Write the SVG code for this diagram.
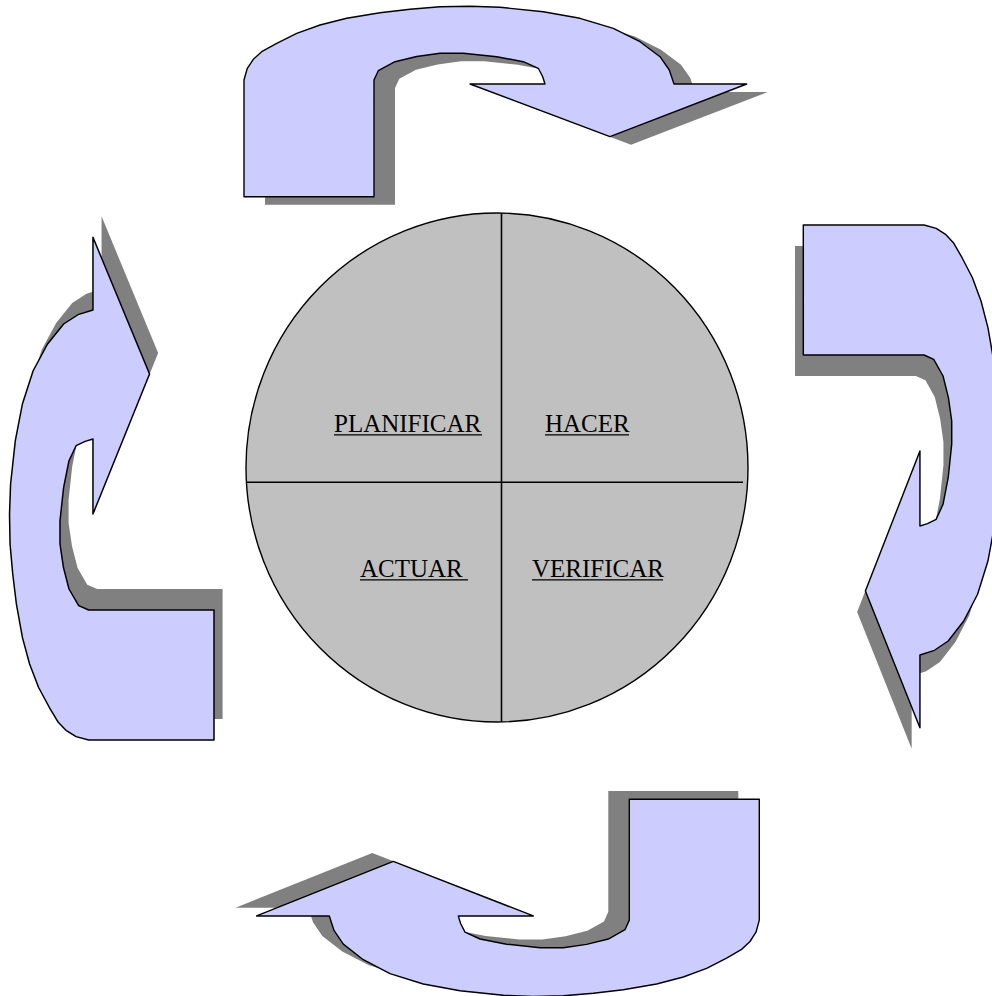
<svg xmlns="http://www.w3.org/2000/svg" xmlns:xlink="http://www.w3.org/1999/xlink" width="992" height="996" viewBox="0 0 992 996">
<style>
.shadow{fill:#808080;stroke:none}
.arrow{fill:#ccccff;stroke:#000;stroke-width:1.4;stroke-linejoin:round}
.disc{fill:#c0c0c0;stroke:#000;stroke-width:1.4}
.div{stroke:#000;stroke-width:1.6;fill:none}
.lbl{font-family:"Liberation Serif","Times New Roman",serif;font-size:25px;fill:#000}
.ul{stroke:#000;stroke-width:1.2}
</style>
<defs>
<path id="bent" d="M244,196.7 L244,80 L247.3,68.3 L253.3,59.3 L261.7,51.7 L276.7,43.3 L296.7,33.3 L320,25 L346.7,18.3 L380,12.7 L410,9.3 L440,6.8 L470,6.3 L500,7.3 L543.3,11.7 L580,18.3 L613.3,28.3 L640,41.7 L660,56.7 L669.3,70 L674,84 L746.7,84 L610,136.7 L470,84 L545,84 L542.7,76.7 L538.3,68.3 L523.3,61.7 L496.7,56.7 L463.3,53.3 L440,53.3 L416.7,56.5 L395,61.7 L378.3,70.7 L374,80 L374,196.7 Z"/>
</defs>
<g id="arrow-top">
<use xlink:href="#bent" href="#bent" class="shadow" transform="translate(21,8)"/>
<use xlink:href="#bent" href="#bent" class="arrow"/>
</g>
<g id="arrow-right" transform="translate(803.3,225) rotate(90) scale(1,1.035) translate(-244,-196.7)">
<use xlink:href="#bent" href="#bent" class="shadow" transform="translate(21,8)"/>
<use xlink:href="#bent" href="#bent" class="arrow"/>
</g>
<g id="arrow-bottom" transform="translate(759.3,799.3) rotate(180) scale(1,1.035) translate(-244,-196.7)">
<use xlink:href="#bent" href="#bent" class="shadow" transform="translate(21,8)"/>
<use xlink:href="#bent" href="#bent" class="arrow"/>
</g>
<g id="arrow-left" transform="translate(214,740) rotate(-90) scale(1,1.074) translate(-244,-196.7)">
<use xlink:href="#bent" href="#bent" class="shadow" transform="translate(21,8)"/>
<use xlink:href="#bent" href="#bent" class="arrow"/>
</g>
<g id="cycle">
<ellipse class="disc" cx="497" cy="467.5" rx="251" ry="254.5"/>
<line class="div" x1="501.5" y1="213" x2="501.5" y2="722"/>
<line class="div" x1="246" y1="482.3" x2="743" y2="482.3"/>
</g>
<g id="planificar">
<text class="lbl" x="334" y="432">PLANIFICAR</text>
<line class="ul" x1="334" y1="434.8" x2="482" y2="434.8"/>
</g>
<g id="hacer">
<text class="lbl" x="545" y="432">HACER</text>
<line class="ul" x1="545" y1="434.8" x2="629" y2="434.8"/>
</g>
<g id="actuar">
<text class="lbl" x="360" y="577">ACTUAR </text>
<line class="ul" x1="360" y1="579.8" x2="468" y2="579.8"/>
</g>
<g id="verificar">
<text class="lbl" x="532" y="577">VERIFICAR</text>
<line class="ul" x1="532" y1="579.8" x2="663" y2="579.8"/>
</g>
</svg>
